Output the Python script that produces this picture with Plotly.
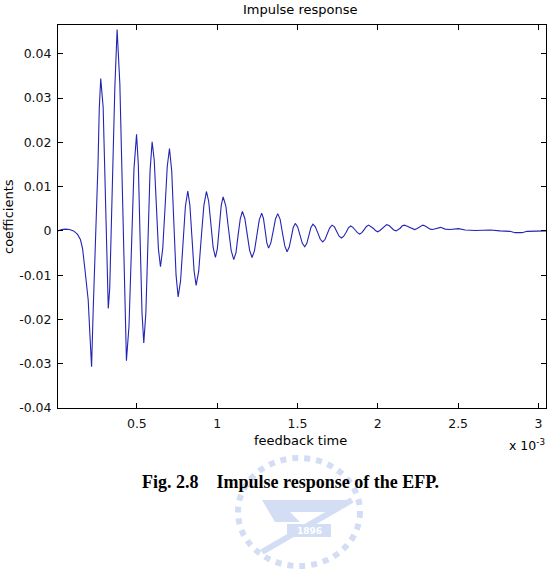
import plotly.graph_objects as go

# feedback time in units of 1e-3 s
time_ms = [
    0.009, 0.031, 0.056, 0.081, 0.106, 0.131, 0.149, 0.162, 0.176, 0.197,
    0.207, 0.218, 0.228, 0.239, 0.249, 0.258, 0.266, 0.275, 0.290, 0.299,
    0.307, 0.322, 0.331, 0.342, 0.353, 0.363, 0.377, 0.394, 0.404, 0.415,
    0.426, 0.435,
    0.451, 0.466, 0.482, 0.498,
    0.509, 0.520, 0.532, 0.543,
    0.556, 0.569, 0.582, 0.595,
    0.608, 0.621, 0.634, 0.647,
    0.661, 0.675, 0.689, 0.703,
    0.717, 0.730, 0.744, 0.757,
    0.772, 0.787, 0.802, 0.817,
    0.830, 0.843, 0.856, 0.869,
    0.885, 0.901, 0.917, 0.933,
    0.947, 0.961, 0.975, 0.989,
    1.001, 1.013, 1.025, 1.037,
    1.054, 1.070, 1.087, 1.103,
    1.117, 1.130, 1.144, 1.157,
    1.172, 1.187, 1.202, 1.217,
    1.232, 1.247, 1.262, 1.277,
    1.288, 1.299, 1.309, 1.320,
    1.334, 1.349, 1.363, 1.377,
    1.392, 1.406, 1.421, 1.435,
    1.448, 1.461, 1.473, 1.486,
    1.501, 1.516, 1.530, 1.545,
    1.558, 1.571, 1.583, 1.596,
    1.611, 1.627, 1.642, 1.657,
    1.672, 1.686, 1.701, 1.715,
    1.730, 1.745, 1.759, 1.774,
    1.788, 1.803, 1.817, 1.831,
    1.845, 1.859, 1.873, 1.887,
    1.901, 1.915, 1.929, 1.943,
    1.957, 1.971, 1.985, 1.999,
    2.013, 2.027, 2.041, 2.055,
    2.070, 2.084, 2.099, 2.114,
    2.126, 2.139, 2.151, 2.164,
    2.180, 2.196, 2.213, 2.229,
    2.242, 2.254, 2.267, 2.280,
    2.295, 2.310, 2.326, 2.341,
    2.353, 2.366, 2.391,
    2.419, 2.450, 2.502, 2.544, 2.606, 2.699, 2.761, 2.823, 2.854, 2.898,
    2.929, 2.978, 3.016, 3.047,
]

coefficients = [
    0.0000, 0.0003, 0.0004, 0.0003, 0.0000, -0.0008, -0.0020, -0.0040, -0.0085, -0.0156,
    -0.0230, -0.0307, -0.0180, -0.0060, 0.0029, 0.0150, 0.0277, 0.0344, 0.0280, 0.0150,
    0.0047, -0.0175, -0.0130, 0.0032, 0.0180, 0.0325, 0.0455, 0.0333, 0.0180, 0.0024,
    -0.0150, -0.0293,
    -0.0215, -0.0040, 0.0140, 0.0218,
    0.0150, -0.0015, -0.0185, -0.0253,
    -0.0185, -0.0025, 0.0135, 0.0201,
    0.0160, 0.0060, -0.0040, -0.0081,
    -0.0040, 0.0050, 0.0145, 0.0186,
    0.0135, 0.0020, -0.0100, -0.0149,
    -0.0113, -0.0030, 0.0055, 0.0090,
    0.0058, -0.0015, -0.0090, -0.0123,
    -0.0091, -0.0015, 0.0057, 0.0089,
    0.0067, 0.0015, -0.0038, -0.0060,
    -0.0040, 0.0008, 0.0057, 0.0077,
    0.0056, 0.0006, -0.0044, -0.0065,
    -0.0049, -0.0010, 0.0028, 0.0044,
    0.0028, -0.0008, -0.0044, -0.0060,
    -0.0045, -0.0010, 0.0025, 0.0040,
    0.0028, 0.0000, -0.0027, -0.0039,
    -0.0027, 0.0000, 0.0027, 0.0039,
    0.0026, -0.0004, -0.0034, -0.0047,
    -0.0037, -0.0015, 0.0007, 0.0017,
    0.0009, -0.0010, -0.0028, -0.0036,
    -0.0028, -0.0010, 0.0007, 0.0015,
    0.0009, -0.0005, -0.0019, -0.0025,
    -0.0019, -0.0006, 0.0007, 0.0013,
    0.0009, -0.0002, -0.0012, -0.0016,
    -0.0012, -0.0003, 0.0007, 0.0011,
    0.0008, 0.0002, -0.0004, -0.0007,
    -0.0004, 0.0003, 0.0010, 0.0013,
    0.0010, 0.0006, 0.0001, -0.0002,
    0.0001, 0.0006, 0.0011, 0.0014,
    0.0012, 0.0007, 0.0002, 0.0000,
    0.0002, 0.0006, 0.0011, 0.0013,
    0.0011, 0.0008, 0.0005, 0.0003,
    0.0005, 0.0008, 0.0011, 0.0013,
    0.0011, 0.0008, 0.0004, 0.0003,
    0.0004, 0.0006, 0.0008,
    0.0004, 0.0003, 0.0005, 0.0002, 0.0001, 0.0002, 0.0000, -0.0001, -0.0004, -0.0004,
    -0.0001, -0.0001, 0.0000, 0.0000,
]

x_ticks = [0.5, 1, 1.5, 2, 2.5, 3]
x_tick_labels = ["0.5", "1", "1.5", "2", "2.5", "3"]
y_ticks = [-0.04, -0.03, -0.02, -0.01, 0, 0.01, 0.02, 0.03, 0.04]
y_tick_labels = ["-0.04", "-0.03", "-0.02", "-0.01", "0", "0.01", "0.02", "0.03", "0.04"]

W, H = 553, 575
L, R, T, B = 58, 7, 25, 167
PW, PH = W - L - R, H - T - B

def px(xp):
    return (xp - L) / PW

def py(yp):
    return (H - B - yp) / PH

FONT = "DejaVu Sans"

fig = go.Figure()
fig.add_trace(go.Scatter(x=time_ms, y=coefficients, mode="lines",
                         line=dict(color="#2424b4", width=1.1), showlegend=False,
                         hoverinfo="skip"))

axis_common = dict(showline=True, linecolor="black", linewidth=1, mirror="ticks",
                   ticks="inside", ticklen=5, tickwidth=1, tickcolor="black",
                   showgrid=False, zeroline=False,
                   tickfont=dict(family=FONT, size=12.5, color="#111111"))

fig.update_xaxes(range=[time_ms[0], time_ms[-1]], tickvals=x_ticks, ticktext=x_tick_labels,
                 ticklabelstandoff=4, **axis_common)
fig.update_yaxes(range=[-0.04, 0.0465], tickvals=y_ticks, ticktext=y_tick_labels,
                 ticklabelstandoff=3, **axis_common)

ann = [
    dict(text="Impulse response", x=px(300), y=py(10), size=13, fam=FONT, angle=0),
    dict(text="coefficients", x=px(8), y=py(217), size=13, fam=FONT, angle=-90),
    dict(text="feedback time", x=px(300), y=py(440), size=13, fam=FONT, angle=0),
    dict(text="x 10<sup>-3</sup>", x=px(527), y=py(445), size=12.5, fam=FONT, angle=0),
    dict(text="<b>Fig. 2.8    Impulse response of the EFP.</b>", x=px(290), y=py(482), size=18,
         fam="Liberation Serif, Times New Roman, serif", angle=0),
]
annotations = []
for a in ann:
    annotations.append(dict(text=a["text"], x=a["x"], y=a["y"], xref="paper", yref="paper",
                            xanchor="center", yanchor="middle", showarrow=False,
                            textangle=a["angle"],
                            font=dict(family=a["fam"], size=a["size"], color="black")))

# faint watermark logo (decorative)
wm = "#d3def4"
shapes = [
    dict(type="circle", xref="paper", yref="paper", x0=px(238), x1=px(360), y0=py(566), y1=py(458),
         line=dict(color=wm, width=6, dash="dot"), layer="below"),
    dict(type="line", xref="paper", yref="paper", x0=px(262), y0=py(552), x1=px(352), y1=py(500),
         line=dict(color=wm, width=6), layer="below"),
    dict(type="path", xref="paper", yref="paper", layer="below",
         path=f"M {px(262)},{py(500)} L {px(350)},{py(500)} L {px(335)},{py(512)} L {px(290)},{py(512)} L {px(300)},{py(522)} L {px(275)},{py(522)} Z",
         fillcolor=wm, line=dict(width=0)),
    dict(type="rect", xref="paper", yref="paper", x0=px(287), x1=px(331), y0=py(537), y1=py(524),
         fillcolor=wm, line=dict(width=0), layer="below"),
]
annotations.append(dict(text="<b>1896</b>", x=px(309), y=py(530.5), xref="paper", yref="paper",
                        showarrow=False, xanchor="center", yanchor="middle",
                        font=dict(family=FONT, size=9, color="white")))

fig.update_layout(width=W, height=H, margin=dict(l=L, r=R, t=T, b=B, pad=0),
                  paper_bgcolor="white", plot_bgcolor="white",
                  annotations=annotations, shapes=shapes)

fig.write_html("out.html")
